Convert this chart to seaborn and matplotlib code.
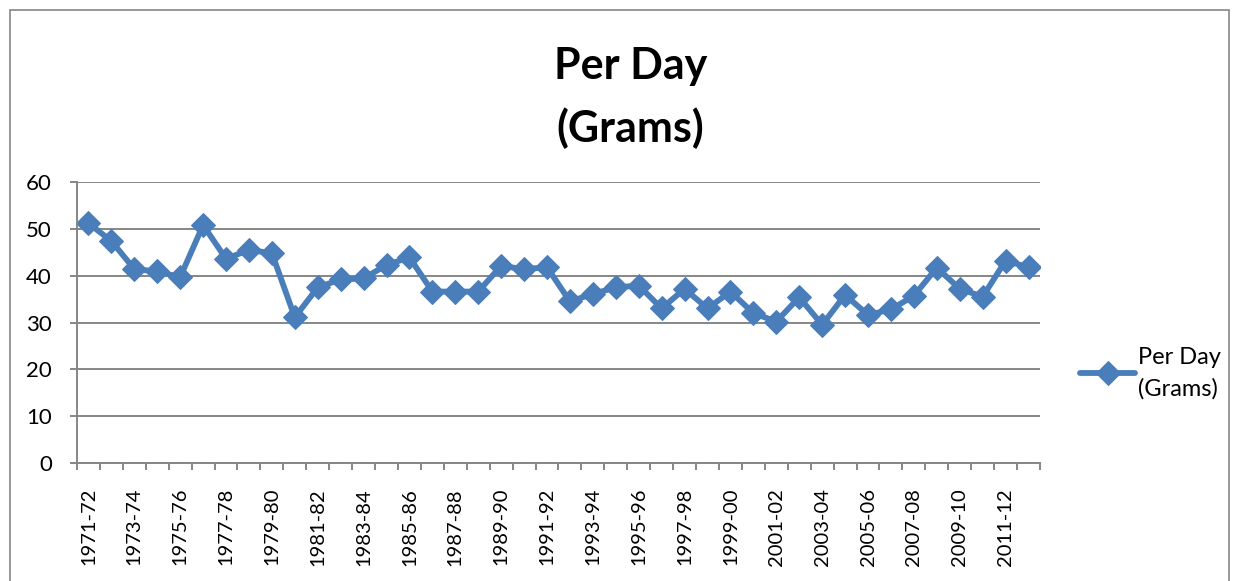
import pandas as pd
import seaborn as sns
import matplotlib.pyplot as plt
from matplotlib.patches import Rectangle

# Per-day consumption, 1971-72 .. 2012-13
years = [f"{y}-{str(y + 1)[-2:]}" for y in range(1971, 2013)]
grams = [51.2, 47.4, 41.4, 40.9, 39.7, 50.8, 43.6, 45.5, 44.8, 31.1,
         37.5, 39.2, 39.4, 42.3, 43.9, 36.6, 36.6, 36.6, 42.1, 41.4,
         41.8, 34.5, 36.1, 37.5, 37.9, 33.0, 37.2, 33.0, 36.6, 32.0,
         30.2, 35.4, 29.5, 35.9, 31.6, 32.8, 35.7, 41.7, 37.2, 35.5,
         43.2, 41.8]
yticks = [0, 10, 20, 30, 40, 50, 60]

df = pd.DataFrame({"Year": years, "Grams": grams})

sns.set_theme(style="white")
plt.rcParams["font.family"] = ["Lato", "DejaVu Sans"]
plt.rcParams["text.color"] = "black"
plt.rcParams["xtick.color"] = "black"
plt.rcParams["ytick.color"] = "black"

blue = "#4A7EBB"
grey = "#868686"

fig = plt.figure(figsize=(12.36, 5.81), dpi=100)
ax = fig.add_axes([0.0623, 0.2031, 0.7791, 0.4836])

sns.lineplot(data=df, x="Year", y="Grams", ax=ax, color=blue, linewidth=4.2,
             marker="D", markersize=12, markeredgecolor=blue,
             label="Per Day\n(Grams)", sort=False)

ax.set_ylim(0, 60)
ax.set_xlim(-0.5, len(years) - 0.5)
ax.set_yticks(yticks)
ax.yaxis.grid(True, color=grey, linewidth=1.4)
ax.set_axisbelow(True)

# labels every other category, ticks at category boundaries
ax.set_xticks(range(0, len(years), 2))
ax.set_xticklabels(years[::2], rotation=90)
ax.set_xticks([i - 0.5 for i in range(len(years) + 1)], minor=True)
ax.tick_params(axis="x", which="major", length=0, pad=18, labelsize=14.5)
ax.tick_params(axis="x", which="minor", length=5, width=1.4, color=grey, bottom=True)
ax.tick_params(axis="y", length=5, width=1.4, color=grey, labelcolor="black",
               left=True, labelsize=16, pad=13)

ax.set_xlabel("")
ax.set_ylabel("")
for side in ["top", "right"]:
    ax.spines[side].set_visible(False)
for side in ["left", "bottom"]:
    ax.spines[side].set_color(grey)
    ax.spines[side].set_linewidth(1.4)

fig.suptitle("Per Day\n(Grams)", x=0.51, y=0.92, fontsize=31, fontweight="bold",
             linespacing=1.6, color="black")

leg = ax.legend(loc="center left", bbox_to_anchor=(1.02, 0.32), frameon=False,
                fontsize=17, handlelength=2.3, handletextpad=0.15, labelcolor="black")
leg.get_texts()[0].set_linespacing(1.55)

fig.patches.append(Rectangle((0.008, -0.05), 0.986, 1.033, transform=fig.transFigure,
                             fill=False, edgecolor=grey, linewidth=1.2))

plt.savefig("out.png", dpi=100)
